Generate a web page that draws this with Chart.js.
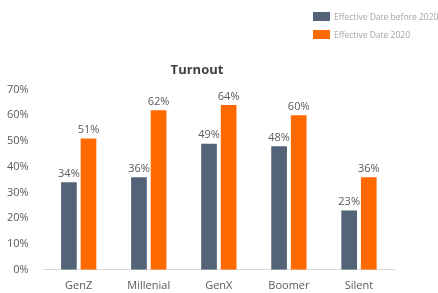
<!DOCTYPE html>
<html>
<head>
<meta charset="utf-8">
<script src="https://cdn.jsdelivr.net/npm/chart.js@4"></script>
<style>
  html, body { margin: 0; padding: 0; background: #fff; }
  #wrap { position: relative; width: 438px; height: 293px; }
  #legend { position: absolute; left: 313px; top: 7px; font-family: "Open Sans", sans-serif; font-size: 8.5px; color: #a6a6a6; white-space: nowrap; }
  #legend div { height: 18px; display: flex; align-items: center; }
  #legend span.box { display: inline-block; width: 17px; height: 9px; margin-right: 4px; }
</style>
</head>
<body>
<div id="wrap">
  <canvas id="chart" width="438" height="293"></canvas>
  <div id="legend"></div>
</div>
<script>
// Data
const categories = ['GenZ', 'Millenial', 'GenX', 'Boomer', 'Silent'];
const before2020 = [34, 36, 49, 48, 23];
const in2020 = [51, 62, 64, 60, 36];
const seriesNames = ['Effective Date before 2020', 'Effective Date 2020'];
const seriesColors = ['#546478', '#ff6a00'];

// Build the legend as HTML (stacked vertically, top right)
const legendEl = document.getElementById('legend');
seriesNames.forEach((name, i) => {
  const row = document.createElement('div');
  row.innerHTML = `<span class="box" style="background:${seriesColors[i]}"></span>${name}`;
  legendEl.appendChild(row);
});

// Draw value labels above each bar
const valueLabels = {
  id: 'valueLabels',
  afterDatasetsDraw(chart) {
    const ctx = chart.ctx;
    ctx.save();
    ctx.font = '11px "Open Sans", sans-serif';
    ctx.fillStyle = '#595959';
    ctx.textAlign = 'center';
    ctx.textBaseline = 'bottom';
    chart.data.datasets.forEach((ds, i) => {
      chart.getDatasetMeta(i).data.forEach((bar, j) => {
        ctx.fillText(ds.data[j] + '%', bar.x, bar.y - 3);
      });
    });
    ctx.restore();
  }
};

new Chart(document.getElementById('chart'), {
  type: 'bar',
  data: {
    labels: categories,
    datasets: [
      { label: seriesNames[0], data: before2020, backgroundColor: seriesColors[0] },
      { label: seriesNames[1], data: in2020, backgroundColor: seriesColors[1] }
    ]
  },
  options: {
    responsive: false,
    animation: false,
    datasets: {
      bar: { categoryPercentage: 0.56, barPercentage: 0.8 }
    },
    layout: { padding: { top: 62, right: 44, left: 0, bottom: 0 } },
    plugins: {
      legend: { display: false },
      tooltip: { enabled: false },
      title: {
        display: true,
        text: 'Turnout',
        color: '#404040',
        font: { family: '"Open Sans", sans-serif', size: 13, weight: 'bold' },
        padding: { top: 0, bottom: 12 }
      }
    },
    scales: {
      x: {
        grid: { display: false },
        border: { color: '#d9d9d9' },
        ticks: { color: '#595959', padding: 1, font: { family: '"Open Sans", sans-serif', size: 11 } }
      },
      y: {
        min: 0,
        max: 70,
        grid: { display: false },
        border: { display: false },
        ticks: {
          stepSize: 10,
          color: '#595959',
          padding: 7,
          font: { family: '"Open Sans", sans-serif', size: 11 },
          callback: v => v + '%'
        }
      }
    }
  },
  plugins: [valueLabels]
});
</script>
</body>
</html>
